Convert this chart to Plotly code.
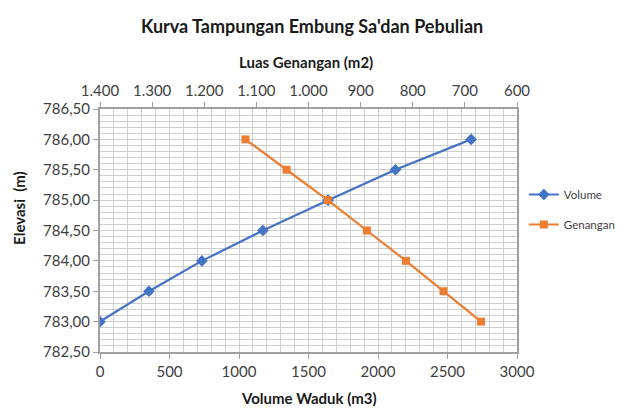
import plotly.graph_objects as go

elevasi = [783.0, 783.5, 784.0, 784.5, 785.0, 785.5, 786.0]
volume = [0, 352, 733, 1172, 1641, 2125, 2670]
genangan = [669, 741, 813, 888, 963, 1042, 1121]

bottom_ticks = [0, 500, 1000, 1500, 2000, 2500, 3000]
top_ticks = [1400, 1300, 1200, 1100, 1000, 900, 800, 700, 600]
y_ticks = [782.5, 783.0, 783.5, 784.0, 784.5, 785.0, 785.5, 786.0, 786.5]

FONT = "Lato"
blue = "#4472C4"
orange = "#ED7D31"
grid = "#CFCFCF"
axisc = "#A0A0A0"

W, H = 633, 411
L, R, T, B = 100, 106, 109, 59
PW, PH = W - L - R, H - T - B

def px(xs):  # screen x -> paper
    return (xs - L) / PW

def py(ys):  # screen y -> paper
    return (H - B - ys) / PH

fig = go.Figure()
fig.add_trace(go.Scatter(x=volume, y=elevasi, name="Volume", mode="lines+markers",
                         legendgroup="a",
                         line=dict(color=blue, width=2.2),
                         marker=dict(symbol="diamond", size=9, color=blue)))
fig.add_trace(go.Scatter(x=genangan, y=elevasi, name="Genangan", mode="lines+markers",
                         xaxis="x2", legendgroup="b",
                         line=dict(color=orange, width=2.2),
                         marker=dict(symbol="square", size=8, color=orange)))

tickfont = dict(family=FONT, size=15, color="#404040")

fig.update_layout(
    width=W, height=H,
    margin=dict(l=L, r=R, t=T, b=B),
    paper_bgcolor="white", plot_bgcolor="white",
    separators=",.",
    xaxis=dict(range=[0, 3000], tickvals=bottom_ticks, tickformat="d",
               showgrid=True, gridcolor=grid, gridwidth=1,
               minor=dict(dtick=100, showgrid=True, gridcolor=grid, gridwidth=1),
               showline=True, linecolor=axisc, linewidth=2, mirror=False,
               ticks="outside", ticklen=5, tickcolor=axisc,
               tickfont=tickfont, zeroline=False, automargin=False),
    xaxis2=dict(range=[1400, 600], tickvals=top_ticks, tickformat=",.0f",
                overlaying="x", side="top", showgrid=False,
                showline=True, linecolor=axisc, linewidth=2,
                ticks="outside", ticklen=5, tickcolor=axisc,
                tickfont=tickfont, zeroline=False, automargin=False),
    yaxis=dict(range=[782.5, 786.5], tickvals=y_ticks, tickformat=".2f",
               showgrid=True, gridcolor=grid, gridwidth=1,
               minor=dict(dtick=0.1, showgrid=True, gridcolor=grid, gridwidth=1),
               showline=True, linecolor=axisc, linewidth=2, mirror=True,
               ticks="outside", ticklen=5, tickcolor=axisc,
               tickfont=tickfont, zeroline=False, automargin=False),
    legend=dict(x=px(534), xanchor="left", y=py(180), yanchor="top",
                font=dict(family=FONT, size=11.5, color="#404040"),
                bgcolor="rgba(0,0,0,0)", tracegroupgap=11, itemwidth=30),
    showlegend=True,
)

annots = [
    dict(text="<b>Kurva Tampungan Embung Sa'dan Pebulian</b>", xs=317, ys=26,
         size=18, angle=0),
    dict(text="<b>Luas Genangan (m2)</b>", xs=311, ys=62, size=15, angle=0),
    dict(text="<b>Volume Waduk (m3)</b>", xs=314, ys=398, size=15, angle=0),
    dict(text="<b>Elevasi  (m)</b>", xs=17, ys=208, size=15, angle=-90),
]
for a in annots:
    fig.add_annotation(text=a["text"], x=px(a["xs"]), y=py(a["ys"]),
                       xref="paper", yref="paper", showarrow=False,
                       xanchor="center", yanchor="middle", textangle=a["angle"],
                       font=dict(family=FONT, size=a["size"], color="#1a1a1a"))

fig.write_html("out.html",
               config={"displayModeBar": False},
               post_script="document.body.style.margin='0';document.documentElement.style.overflow='hidden';")
